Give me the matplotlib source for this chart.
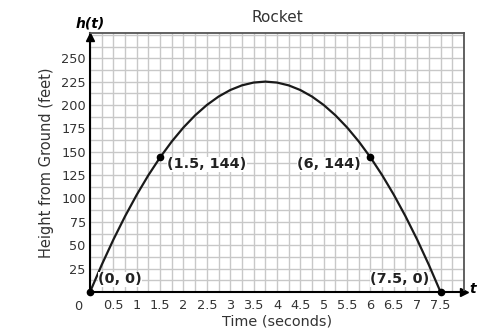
import matplotlib.pyplot as plt
from matplotlib.ticker import MultipleLocator

# time (s) and height (ft), every 0.25 s
t = [0, 0.25, 0.5, 0.75, 1, 1.25, 1.5, 1.75, 2, 2.25, 2.5, 2.75, 3, 3.25, 3.5, 3.75,
     4, 4.25, 4.5, 4.75, 5, 5.25, 5.5, 5.75, 6, 6.25, 6.5, 6.75, 7, 7.25, 7.5]
h = [0, 29, 56, 81, 104, 125, 144, 161, 176, 189, 200, 209, 216, 221, 224, 225,
     224, 221, 216, 209, 200, 189, 176, 161, 144, 125, 104, 81, 56, 29, 0]

pts_t = [0, 1.5, 6, 7.5]
pts_h = [0, 144, 144, 0]
pts_lbl = ['(0, 0)', '(1.5, 144)', '(6, 144)', '(7.5, 0)']

xticks = [0.5, 1, 1.5, 2, 2.5, 3, 3.5, 4, 4.5, 5, 5.5, 6, 6.5, 7, 7.5]
xtick_lbl = ['0.5', '1', '1.5', '2', '2.5', '3', '3.5', '4', '4.5', '5', '5.5', '6', '6.5', '7', '7.5']
yticks = [25, 50, 75, 100, 125, 150, 175, 200, 225, 250]

txt = '#333333'
fig = plt.figure(figsize=(4.93, 3.32), dpi=100)
ax = fig.add_axes([0.1826, 0.1205, 0.7584, 0.7801])
ax.set_xlim(0, 8)
ax.set_ylim(0, 277)

ax.xaxis.set_minor_locator(MultipleLocator(0.25))
ax.yaxis.set_minor_locator(MultipleLocator(12.5))
ax.set_xticks(xticks)
ax.set_xticklabels(xtick_lbl)
ax.set_yticks(yticks)
ax.grid(True, which='both', color='#c8c8c8', lw=1.0)
ax.set_axisbelow(True)
ax.tick_params(which='both', length=0, labelsize=9.3, labelcolor=txt)
ax.tick_params(axis='x', pad=5)
ax.tick_params(axis='y', pad=3)

for s in ['top', 'right']:
    ax.spines[s].set_color('#555555')
    ax.spines[s].set_linewidth(1.3)
for s in ['left', 'bottom']:
    ax.spines[s].set_color('black')
    ax.spines[s].set_linewidth(1.5)

# axis arrows
ax.plot(1, 0, '>', color='black', ms=6, transform=ax.transAxes, clip_on=False)
ax.plot(0, 0.985, '^', color='black', ms=6, transform=ax.transAxes, clip_on=False)
ax.text(1.014, 0.01, 't', transform=ax.transAxes, fontsize=10, fontweight='bold',
        style='italic', va='center', ha='left')
ax.text(0.0, 1.01, 'h(t)', transform=ax.transAxes, fontsize=10, fontweight='bold',
        style='italic', va='bottom', ha='center')
ax.text(-0.02, -0.03, '0', transform=ax.transAxes, fontsize=9.3, color=txt,
        ha='right', va='top')

ax.plot(t, h, color='#1a1a1a', lw=1.6, clip_on=False)
ax.plot(pts_t, pts_h, 'o', color='black', ms=4.5, clip_on=False, zorder=5)

offsets = [(6, 4, 'left', 'bottom'), (5, -5, 'left', 'center'),
           (-7, -5, 'right', 'center'), (-8, 4, 'right', 'bottom')]
for x, y, s, (dx, dy, ha, va) in zip(pts_t, pts_h, pts_lbl, offsets):
    ax.annotate(s, (x, y), xytext=(dx, dy), textcoords='offset points',
                fontsize=10.4, fontweight='bold', color='#222222', ha=ha, va=va,
                bbox=dict(fc='white', ec='none', pad=0.2))

ax.set_title('Rocket', fontsize=11, color=txt, pad=8)
ax.set_xlabel('Time (seconds)', fontsize=10.4, color=txt, labelpad=2)
ax.set_ylabel('Height from Ground (feet)', fontsize=10.5, color=txt, labelpad=5)

fig.savefig('out.png', dpi=100)
